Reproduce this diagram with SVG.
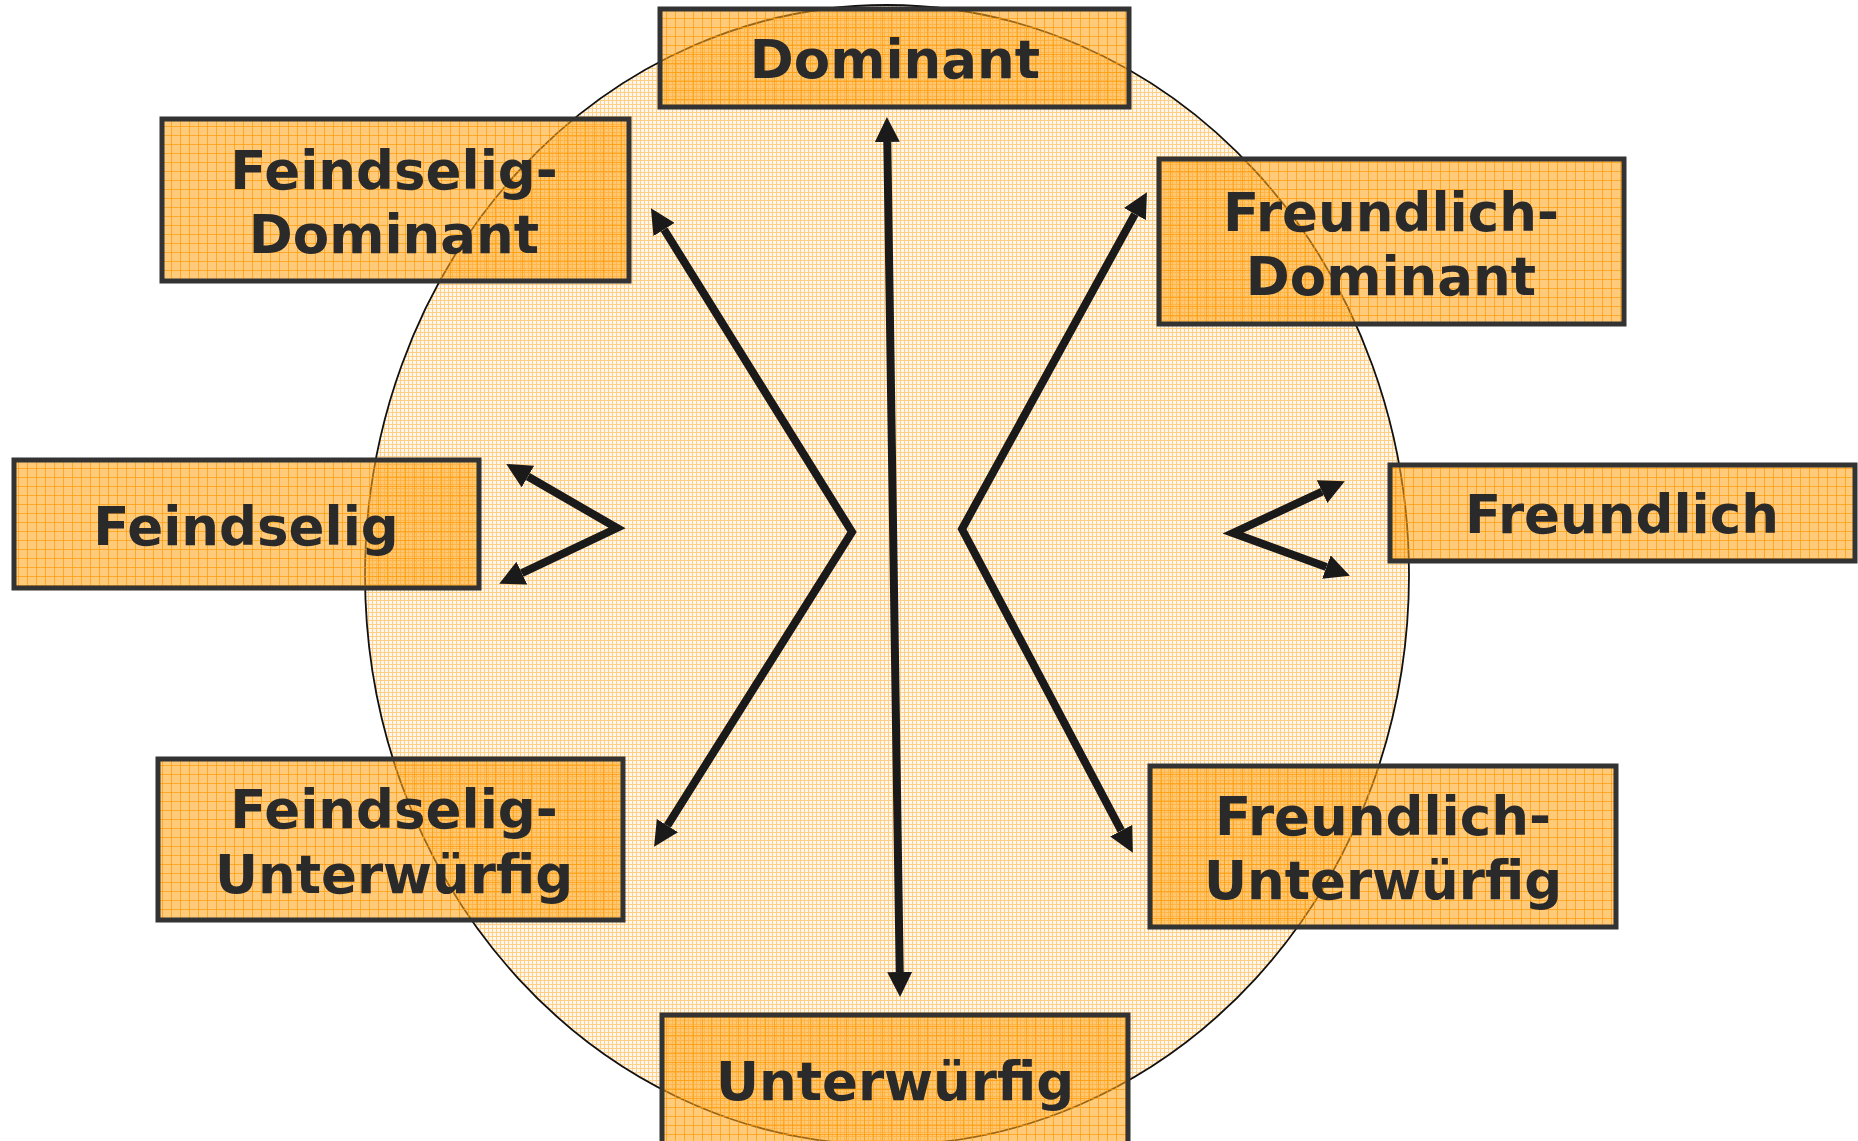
<svg xmlns="http://www.w3.org/2000/svg" width="1858" height="1141" viewBox="0 0 1858 1141">
<style>
.box{fill:url(#boxfill);stroke:#333333;stroke-width:5}
.lbl{font-family:"DejaVu Sans","Verdana",sans-serif;font-weight:bold;font-size:53px;fill:#2a2a2a;text-anchor:middle}
.arr{fill:none;stroke:#1a1a1a;stroke-width:8;stroke-linejoin:miter;marker-start:url(#head);marker-end:url(#head)}
</style>
<defs>
<pattern id="circfill" patternUnits="userSpaceOnUse" width="4" height="4">
<rect width="4" height="4" fill="#fff7ec"/>
<path d="M0,0.5H4M0.5,0V4" stroke="#ffcf88" stroke-width="1" fill="none"/>
</pattern>
<pattern id="boxfill" patternUnits="userSpaceOnUse" width="9" height="9">
<rect width="9" height="9" fill="#ffa31a" fill-opacity="0.58"/>
<path d="M0,0.5H9M0.5,0V9" stroke="#ff9900" stroke-opacity="0.65" stroke-width="1" fill="none"/>
</pattern>
<marker id="head" viewBox="0 0 23 23" refX="0" refY="11.5" markerWidth="25" markerHeight="25" markerUnits="userSpaceOnUse" orient="auto-start-reverse">
<path d="M0,0L23,11.5L0,23z" fill="#1a1a1a"/>
</marker>
</defs>
<rect width="1858" height="1141" fill="#ffffff"/>
<ellipse id="circle" cx="887" cy="575" rx="522" ry="570" fill="url(#circfill)" stroke="#111111" stroke-width="1.8"/>
<g id="connectors">
<path class="arr" d="M887.3,142L899.7,972"/>
<path class="arr" d="M664.1,229.5L852,532L667.4,825.6"/>
<path class="arr" d="M1134.9,214.1L962,529L1121.2,830.7"/>
<path class="arr" d="M527.9,476.5L617,528L521.8,573.1"/>
<path class="arr" d="M1322.1,491.7L1233,533L1326.4,567.1"/>
</g>
<g id="node-dominant">
<rect class="box" x="660" y="9" width="469" height="98"/>
<text class="lbl" x="895" y="78">Dominant</text>
</g>
<g id="node-feindselig-dominant">
<rect class="box" x="162" y="119" width="467" height="162"/>
<text class="lbl" x="394" y="189">Feindselig-</text>
<text class="lbl" x="394" y="253">Dominant</text>
</g>
<g id="node-freundlich-dominant">
<rect class="box" x="1159" y="159" width="465" height="165"/>
<text class="lbl" x="1391" y="231">Freundlich-</text>
<text class="lbl" x="1391" y="295">Dominant</text>
</g>
<g id="node-feindselig">
<rect class="box" x="14" y="460" width="465" height="128"/>
<text class="lbl" x="246" y="545">Feindselig</text>
</g>
<g id="node-freundlich">
<rect class="box" x="1390" y="465" width="465" height="96"/>
<text class="lbl" x="1622" y="533">Freundlich</text>
</g>
<g id="node-feindselig-unterwuerfig">
<rect class="box" x="158" y="759" width="465" height="161"/>
<text class="lbl" x="394" y="828">Feindselig-</text>
<text class="lbl" x="394" y="893">Unterwürfig</text>
</g>
<g id="node-freundlich-unterwuerfig">
<rect class="box" x="1150" y="766" width="466" height="161"/>
<text class="lbl" x="1383" y="835">Freundlich-</text>
<text class="lbl" x="1383" y="899">Unterwürfig</text>
</g>
<g id="node-unterwuerfig">
<rect class="box" x="662" y="1015" width="466" height="140"/>
<text class="lbl" x="895" y="1100">Unterwürfig</text>
</g>
</svg>
